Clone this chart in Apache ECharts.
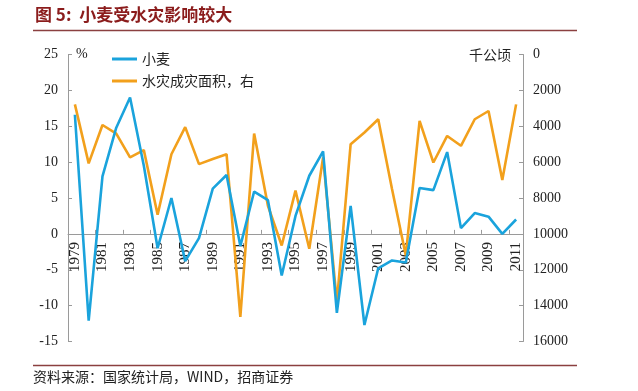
<!DOCTYPE html>
<html>
<head>
<meta charset="utf-8">
<script src="https://cdn.jsdelivr.net/npm/echarts@6/dist/echarts.min.js"></script>
<style>html,body{margin:0;padding:0;background:#fff;}#c{width:638px;height:391px;}</style>
</head>
<body>
<div id="c"></div>
<script>
const years = ['1979','1980','1981','1982','1983','1984','1985','1986','1987','1988','1989','1990','1991','1992','1993','1994','1995','1996','1997','1998','1999','2000','2001','2002','2003','2004','2005','2006','2007','2008','2009','2010','2011'];
const wheat = [16.6,-12.1,8.0,14.8,19.0,9.5,-2.0,5.0,-3.8,-0.6,6.3,8.2,-1.7,5.9,4.7,-5.8,2.5,8.1,11.5,-11.0,3.9,-12.7,-4.8,-3.7,-4.0,6.4,6.1,11.4,0.8,2.9,2.4,0.0,2.0];
const floodArea = [2780,6070,3930,4410,5740,5330,8930,5560,4050,6110,5830,5560,14630,4410,8430,10650,7590,10830,5740,13800,5000,4350,3610,7500,11200,3700,6020,4540,5090,3610,3150,7000,2780];
const leftTicks = {min:-15, max:25, interval:5};
const rightTicks = {min:0, max:16000, interval:2000};
const seriesNames = ['小麦','水灾成灾面积，右'];
const titleText = '图 5:  小麦受水灾影响较大';
const sourceText = '资料来源：国家统计局，WIND，招商证券';

const chart = echarts.init(document.getElementById('c'), null, {renderer:'canvas'});
const serif = '"Liberation Serif","DejaVu Serif",serif';
const cjk = '"Noto Sans CJK SC","Noto Sans",sans-serif';
const axisGray = '#9a9a9a';
const gridTop = 54.5, gridBottom = 49.5, chartH = 391;
const plotH = chartH - gridTop - gridBottom;
const zeroOffset = -plotH * (0 - leftTicks.min) / (leftTicks.max - leftTicks.min);
chart.setOption({
  animation:false,
  backgroundColor:'#fff',
  grid:{left:68, right:115, top:gridTop, bottom:gridBottom, containLabel:false},
  legend:{
    orient:'vertical', left:107, top:47, itemWidth:25, itemHeight:14, itemGap:8,
    textStyle:{fontFamily:cjk, fontSize:14, color:'#222'},
    data:seriesNames.map(n=>({name:n, icon:'path://M0,0 L25,0 L25,3 L0,3 Z'}))
  },
  xAxis:{
    type:'category', data:years, boundaryGap:true, position:'bottom', offset:zeroOffset,
    axisLine:{onZero:false, lineStyle:{color:axisGray, width:1}},
    axisTick:{show:true, inside:true, interval:1, length:4, lineStyle:{color:axisGray}},
    axisLabel:{interval:1, rotate:90, margin:8, fontFamily:serif, fontSize:15, color:'#222'},
    splitLine:{show:false}
  },
  yAxis:[{
    type:'value', min:leftTicks.min, max:leftTicks.max, interval:leftTicks.interval,
    name:'%', nameLocation:'end', nameGap:0,
    nameTextStyle:{fontFamily:serif, fontSize:14, color:'#222', align:'left', verticalAlign:'middle', padding:[0,0,0,8]},
    axisLine:{show:true, lineStyle:{color:axisGray}},
    axisTick:{show:true, inside:true, length:4, lineStyle:{color:axisGray}},
    axisLabel:{fontFamily:serif, fontSize:14, color:'#222', margin:10},
    splitLine:{show:false}
  },{
    type:'value', min:rightTicks.min, max:rightTicks.max, interval:rightTicks.interval, inverse:true,
    name:'千公顷', nameLocation:'start', nameGap:0,
    nameTextStyle:{fontFamily:cjk, fontSize:14, color:'#222', align:'right', verticalAlign:'middle', padding:[0,12,0,0]},
    axisLine:{show:true, lineStyle:{color:axisGray}},
    axisTick:{show:true, inside:true, length:4, lineStyle:{color:axisGray}},
    axisLabel:{fontFamily:serif, fontSize:14, color:'#222', margin:10, formatter:v=>String(v)},
    splitLine:{show:false}
  }],
  series:[{
    name:seriesNames[0], type:'line', data:wheat, yAxisIndex:0, symbol:'none',
    lineStyle:{color:'#1aa3dc', width:2.6}, itemStyle:{color:'#1aa3dc'}, z:3
  },{
    name:seriesNames[1], type:'line', data:floodArea, yAxisIndex:1, symbol:'none',
    lineStyle:{color:'#f2a01c', width:2.6}, itemStyle:{color:'#f2a01c'}, z:2
  }],
  graphic:[
    {type:'text', left:35, top:6, style:{text:titleText, fontFamily:cjk, fontSize:17, fontWeight:'bold', fill:'#8b1c1c'}},
    {type:'line', shape:{x1:33, y1:30.5, x2:577, y2:30.5}, style:{stroke:'#8b4040', lineWidth:1.5}},
    {type:'line', shape:{x1:33, y1:365.5, x2:577, y2:365.5}, style:{stroke:'#8b4040', lineWidth:1.5}},
    {type:'text', left:33, top:370, style:{text:sourceText, fontFamily:cjk, fontSize:14, fill:'#222'}}
  ]
});
</script>
</body>
</html>
